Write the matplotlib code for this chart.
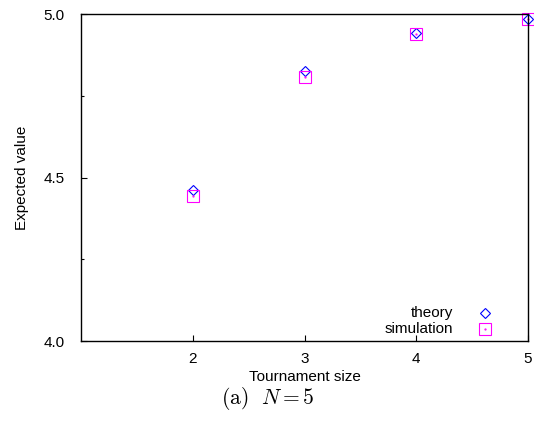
import numpy as np
import matplotlib.pyplot as plt
from matplotlib.ticker import MultipleLocator

plt.rcParams['font.family'] = ['Liberation Sans', 'DejaVu Sans']
plt.rcParams['mathtext.fontset'] = 'cm'

# values
tournament_size = [2, 3, 4, 5]
theory = [4.462, 4.826, 4.941, 4.985]
simulation = [4.443, 4.807, 4.940, 4.984]

fig = plt.figure(figsize=(5.34, 4.21), dpi=100)
ax = fig.add_axes([0.1517, 0.19, 0.8371, 0.7767])

ax.plot(tournament_size, theory, linestyle='none', marker='D', markersize=5.3,
        markerfacecolor='none', markeredgecolor='#0000ff', markeredgewidth=0.8, clip_on=False)
ax.plot(tournament_size, simulation, linestyle='none', marker='s', markersize=8,
        markerfacecolor='none', markeredgecolor='#ff00ff', markeredgewidth=0.8, clip_on=False)
ax.plot(tournament_size, simulation, linestyle='none', marker='.', markersize=1.2,
        color='#ff00ff', clip_on=False)

ax.set_xlim(1, 5)
ax.set_ylim(4.0, 5.0)
ax.set_xticks(tournament_size)
ax.yaxis.set_major_locator(MultipleLocator(0.5))
ax.yaxis.set_minor_locator(MultipleLocator(0.25))
ax.yaxis.set_major_formatter(plt.FormatStrFormatter('%.1f'))
ax.tick_params(which='major', direction='in', length=4, width=0.8, labelsize=11, pad=8)
ax.tick_params(axis='y', which='major', pad=12)
ax.tick_params(which='minor', direction='in', length=2.5, width=0.8)
for s in ax.spines.values():
    s.set_linewidth(1.0)

ax.set_xlabel('Tournament size', fontsize=11, labelpad=3)
ax.set_ylabel('Expected value', fontsize=11, labelpad=10)

# gnuplot style key, bottom right
ax.text(0.832, 0.085, 'theory', transform=ax.transAxes, ha='right', va='center', fontsize=11)
ax.text(0.832, 0.038, 'simulation', transform=ax.transAxes, ha='right', va='center', fontsize=11)
ax.plot([0.904], [0.085], transform=ax.transAxes, marker='D', markersize=5.3,
        markerfacecolor='none', markeredgecolor='#0000ff', markeredgewidth=0.8)
ax.plot([0.904], [0.038], transform=ax.transAxes, marker='s', markersize=8,
        markerfacecolor='none', markeredgecolor='#ff00ff', markeredgewidth=0.8)
ax.plot([0.904], [0.038], transform=ax.transAxes, marker='.', markersize=1.2, color='#ff00ff')

fig.text(268 / 534, 1 - 399 / 421, r'$\mathrm{(a)}\ \ N = 5$', ha='center', va='center', fontsize=15.5)

fig.savefig('out.png', dpi=100)
